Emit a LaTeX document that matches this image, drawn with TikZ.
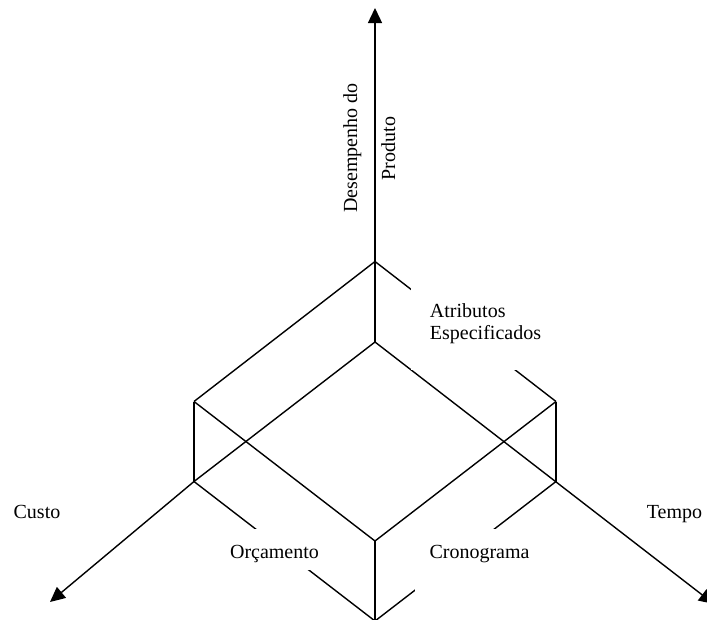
\documentclass[tikz,border=0pt]{standalone}
\usepackage{fontspec}
\setmainfont{Liberation Serif}
\usetikzlibrary{arrows.meta}

\begin{document}
\begin{tikzpicture}[x=1pt,y=-1pt,line width=1.4pt,
    >={Triangle[length=15pt,width=14pt]},
    every node/.style={font=\fontsize{20}{22}\selectfont,inner sep=0pt},
    rotulo/.style={anchor=base},
    caixa/.style={fill=white,anchor=base,minimum width=#1},
    caixa/.default=125pt]

          \useasboundingbox (0,0) rectangle (707,619);

          % vertices
          \coordinate (O)  at (375,342);
          \coordinate (T)  at (375,261.5);
          \coordinate (Lt) at (194,401.5);
          \coordinate (Lb) at (194,481.5);
          \coordinate (Rt) at (556,401.5);
          \coordinate (Rb) at (556,481.5);
          \coordinate (Ft) at (375,541);
          \coordinate (Fb) at (375,621);

          % pontas dos eixos
          \coordinate (eixoD) at (375,8);
          \coordinate (eixoC) at (50,602);
          \coordinate (eixoT) at (714,604);

          \path[->] (O)  edge (eixoD)
                    (Lb) edge (eixoC)
                    (O)  edge (eixoT);

          \path (O)  edge (Lb)
                (T)  edge (Lt)
                (Lt) edge (Lb)
                (Lt) edge (Ft)
                (Ft) edge (Rt)
                (Rt) edge (Rb)
                (Ft) edge (Fb)
                (T)  edge (Rt)
                (Lb) edge (Fb)
                (Rb) edge (Fb);

          \node[fill=white,align=left,minimum width=149pt,minimum height=93pt]
                (atrib) at (485.5,323.3) {Atributos\\Especificados};
          \node[caixa,text height=29pt,text depth=12pt]
                (orca) at (274.5,558) {Orçamento};
          \node[caixa=129pt,text height=29pt,text depth=42pt]
                (crono) at (479.5,558) {Cronograma};

          \node[rotulo] (custo) at (37,518)    {Custo};
          \node[rotulo] (tempo) at (674.5,518) {Tempo};
          \node[rotulo,rotate=90] (desemp) at (357,148)   {Desempenho do};
          \node[rotulo,rotate=90] (prod)   at (395,148.5) {Produto};
        \end{tikzpicture}
\end{document}
